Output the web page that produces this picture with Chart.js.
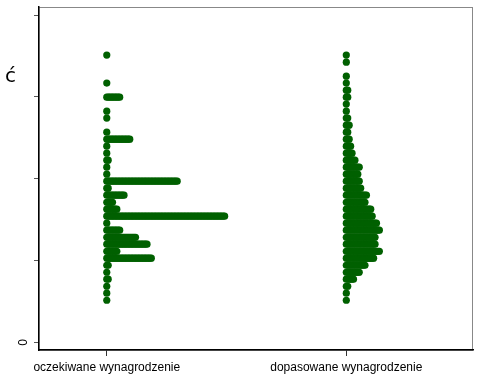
<!DOCTYPE html>
<html>
<head>
<meta charset="utf-8">
<script src="https://cdn.jsdelivr.net/npm/chart.js@4.4.1/dist/chart.umd.min.js"></script>
<style>
  html, body { margin: 0; padding: 0; background: #fff; }
  #box { width: 477px; height: 374px; }
</style>
</head>
<body>
<div id="box"><canvas id="myChart"></canvas></div>
<script>
const categories = ['oczekiwane wynagrodzenie', 'dopasowane wynagrodzenie'];

// wage levels (one row of dots per level), bottom to top
const levels = [2570, 3000, 3425, 3855, 4280, 4710, 5140, 5565, 5995, 6420, 6850, 7280,
  7705, 8135, 8560, 8990, 9420, 9845, 10275, 10700, 11130, 11560, 11985, 12415,
  12840, 13270, 13700, 14125, 14555, 14980, 15410, 15840, 16265, 16695, 17120, 17550];

// number of observations on each level
const expectedCounts = [1, 1, 1, 2, 1, 2, 32, 8, 29, 21, 10, 1, 83, 8, 5, 13, 2, 50,
  1, 1, 2, 1, 1, 17, 1, 0, 1, 1, 0, 10, 0, 1, 0, 0, 0, 1];
const fittedCounts = [1, 1, 2, 6, 10, 14, 20, 24, 21, 21, 24, 22, 19, 18, 14, 15, 11, 10,
  9, 10, 7, 5, 4, 3, 2, 3, 2, 1, 1, 2, 2, 1, 1, 0, 1, 1];

const yTicks = [0, 5000, 10000, 15000, 20000];

const dotStep = 0.006; // horizontal offset between stacked dots, in category units
const green = 'rgb(0, 96, 0)';

function dots(pos, counts) {
  const pts = [];
  counts.forEach((n, k) => {
    for (let j = 0; j < n; j++) pts.push({ x: pos + j * dotStep, y: levels[k] });
  });
  return pts;
}

const frame = {
  id: 'frame',
  beforeDraw(chart) {
    const { ctx, chartArea: a } = chart;
    ctx.save();
    ctx.strokeStyle = '#888';
    ctx.lineWidth = 1;
    ctx.strokeRect(a.left, a.top + 0.5, a.right - a.left - 0.5, a.bottom - a.top);
    ctx.restore();
  },
  afterDraw(chart) {
    const { ctx } = chart;
    const y0 = chart.scales.y.getPixelForValue(0);
    ctx.save();
    ctx.fillStyle = '#000';
    ctx.font = '12px "Liberation Sans", Arial, sans-serif';
    ctx.textAlign = 'center';
    ctx.textBaseline = 'middle';
    ctx.translate(24, y0);
    ctx.rotate(-Math.PI / 2);
    ctx.fillText('0', 0, 0);
    ctx.restore();
    ctx.save();
    ctx.fillStyle = '#000';
    ctx.font = '20px "DejaVu Sans", sans-serif';
    ctx.textBaseline = 'alphabetic';
    ctx.fillText('ć', 5, 82);
    ctx.restore();
  }
};

const ctx = document.getElementById('myChart');

new Chart(ctx, {
  type: 'scatter',
  data: {
    datasets: [
      { data: dots(1, expectedCounts) },
      { data: dots(2, fittedCounts) }
    ]
  },
  options: {
    animation: false,
    responsive: true,
    maintainAspectRatio: false,
    layout: { padding: { top: 7, right: 3, left: 0, bottom: 0 } },
    elements: {
      point: { radius: 3.6, backgroundColor: green, borderColor: green, borderWidth: 0 }
    },
    scales: {
      x: {
        type: 'linear',
        min: 0.717,
        max: 2.529,
        afterBuildTicks: s => { s.ticks = [{ value: 1 }, { value: 2 }]; },
        afterFit: s => { s.height = 24; },
        grid: { drawOnChartArea: false, tickLength: 6, color: '#333' },
        border: { color: '#000', width: 1.5 },
        ticks: {
          color: '#000',
          padding: 4,
          maxRotation: 0,
          font: { family: '"Liberation Sans", Arial, sans-serif', size: 12 },
          callback: v => categories[v - 1]
        }
      },
      y: {
        min: -470,
        max: 20490,
        afterBuildTicks: s => { s.ticks = yTicks.map(v => ({ value: v })); },
        afterFit: s => { s.width = 39; },
        grid: { drawOnChartArea: false, tickLength: 5, color: '#555' },
        border: { color: '#000', width: 1.5 },
        ticks: { display: false }
      }
    },
    plugins: {
      legend: false,
      tooltip: { enabled: false }
    }
  },
  plugins: [frame]
});
</script>
</body>
</html>
